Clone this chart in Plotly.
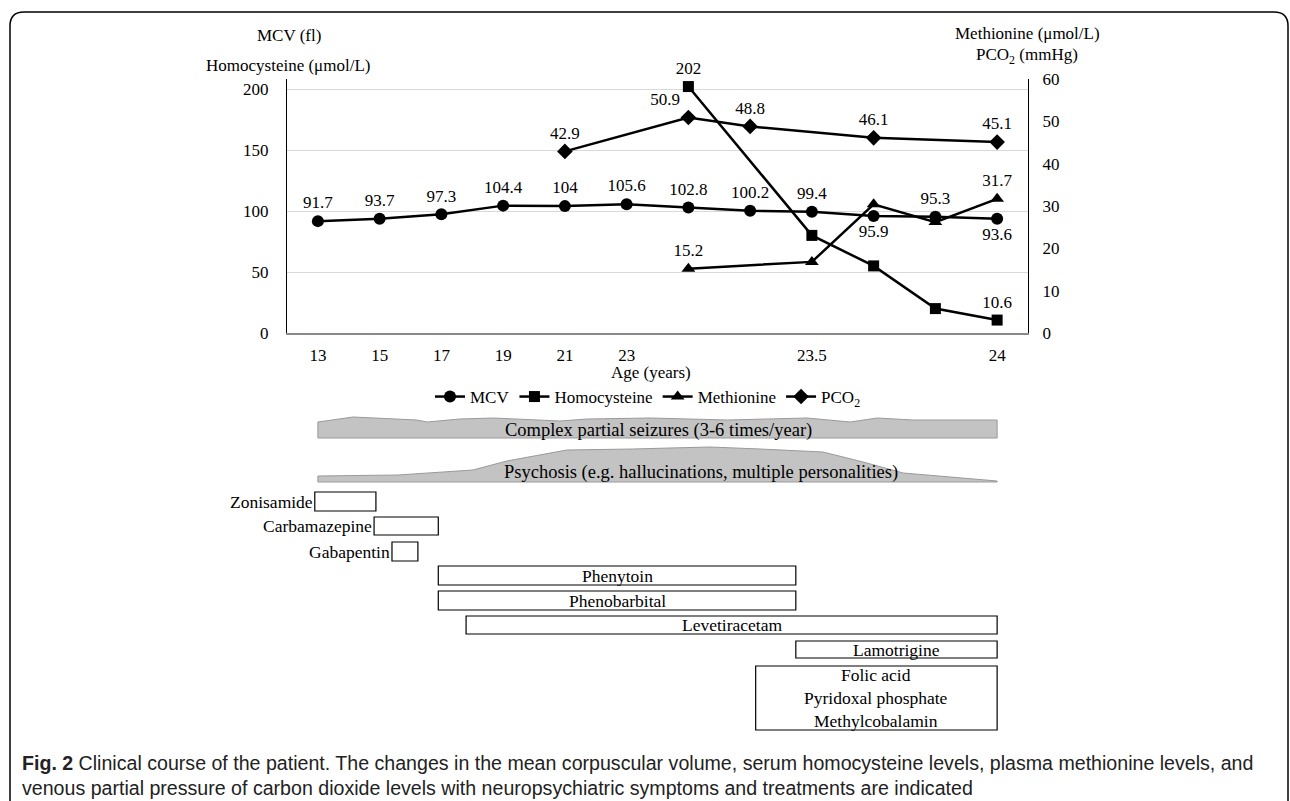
import plotly.graph_objects as go

# ---------------- data ----------------
x_labels = ["13", "15", "17", "19", "21", "23", "", "", "23.5", "", "", "24"]
x_pos = list(range(len(x_labels)))

mcv = [91.7, 93.7, 97.3, 104.4, 104, 105.6, 102.8, 100.2, 99.4, 95.9, 95.3, 93.6]
homocysteine = [None, None, None, None, None, None, 202, None, 80, 55, 20, 10.6]
methionine = [None, None, None, None, None, None, 15.2, None, 16.8, 30.4, 26.2, 31.7]
pco2 = [None, None, None, None, 42.9, None, 50.9, 48.8, None, 46.1, None, 45.1]

mcv_text = ["91.7", "93.7", "97.3", "104.4", "104", "105.6", "102.8", "100.2", "99.4", "95.9", "95.3", "93.6"]
homo_text = ["", "", "", "", "", "", "202", "", "", "", "", "10.6"]
meth_text = ["", "", "", "", "", "", "15.2", "", "", "", "", "31.7"]
pco2_text = ["", "", "", "", "42.9", "", "50.9", "48.8", "", "46.1", "", "45.1"]

left_ticks = [0, 50, 100, 150, 200]
right_ticks = [0, 10, 20, 30, 40, 50, 60]

# treatments (start / end on the age axis, in category units)
drug_names = ["Zonisamide", "Carbamazepine", "Gabapentin", "Phenytoin", "Phenobarbital",
              "Levetiracetam", "Lamotrigine",
              "Folic acid<br>Pyridoxal phosphate<br>Methylcobalamin"]
drug_start = [-0.05, 0.91, 1.2, 1.95, 1.95, 2.4, 7.74, 7.09]
drug_end = [0.94, 1.95, 1.62, 7.74, 7.74, 11.0, 11.0, 11.0]
drug_label_left = [True, True, True, False, False, False, False, False]

# symptoms (outline of the top edge on the age axis)
seiz_name = "Complex partial seizures (3-6 times/year)"
seiz_x = [0.0, 0.57, 1.6, 1.77, 2.3, 2.84, 3.92, 4.36, 5.38, 6.63, 7.92, 8.62, 9.06, 9.64, 11.0]
seiz_top = [422, 417, 420, 422, 419, 418, 421, 419, 418, 420, 418, 422, 418, 420, 420]
seiz_label_x = 5.51
psy_name = "Psychosis (e.g. hallucinations, multiple personalities)"
psy_x = [0.0, 1.3, 2.51, 3.06, 4.03, 5.1, 5.7, 6.35, 7.16, 8.18, 8.83, 9.48, 11.0]
psy_top = [476, 475, 470, 461, 450, 449, 448, 447, 449, 452, 462, 473, 481]
psy_label_x = 6.2

caption = ("<b>Fig. 2</b> Clinical course of the patient. The changes in the mean corpuscular volume, "
           "serum homocysteine levels, plasma methionine levels, and<br>venous partial pressure of "
           "carbon dioxide levels with neuropsychiatric symptoms and treatments are indicated")

# ---------------- layout helpers ----------------
W, H = 1290, 801
ML, MR, MT, MB = 287, 262, 79, 468
PW, PH = W - ML - MR, H - MT - MB
SERIF = "Liberation Serif, Times New Roman, serif"
FS = 17


def py(p):  # pixel row -> paper y
    return (MT + PH - p) / PH


def pxp(p):  # pixel column -> paper x
    return (p - ML) / PW


fig = go.Figure()

line = dict(color="black", width=2.5)
fig.add_trace(go.Scatter(x=x_pos, y=mcv, name="MCV", mode="lines+markers+text",
                         line=line, marker=dict(symbol="circle", size=12, color="black"),
                         text=mcv_text,
                         textposition=["top center"] * 9 + ["bottom center", "top center", "bottom center"],
                         textfont=dict(family=SERIF, size=FS, color="black"), cliponaxis=False))
fig.add_trace(go.Scatter(x=x_pos, y=homocysteine, name="Homocysteine", mode="lines+markers+text",
                         connectgaps=True, line=line,
                         marker=dict(symbol="square", size=11, color="black"),
                         text=homo_text, textposition="top center",
                         textfont=dict(family=SERIF, size=FS, color="black"), cliponaxis=False))
fig.add_trace(go.Scatter(x=x_pos, y=methionine, name="Methionine", mode="lines+markers+text",
                         connectgaps=True, line=line, yaxis="y2",
                         marker=dict(symbol="triangle-up", size=12, color="black"),
                         text=meth_text, textposition="top center",
                         textfont=dict(family=SERIF, size=FS, color="black"), cliponaxis=False))
fig.add_trace(go.Scatter(x=x_pos, y=pco2, name="PCO<sub>2</sub>", mode="lines+markers+text",
                         connectgaps=True, line=line, yaxis="y2",
                         marker=dict(symbol="diamond", size=12, color="black"),
                         text=pco2_text,
                         textposition=["top center"] * 6 + ["top left"] + ["top center"] * 5,
                         textfont=dict(family=SERIF, size=FS, color="black"), cliponaxis=False))

shapes = []
annotations = []

# symptom bands
for name, xs, tops, bottom, text_y, lx in [(seiz_name, seiz_x, seiz_top, 438, 430, seiz_label_x),
                                            (psy_name, psy_x, psy_top, 482, 472, psy_label_x)]:
    path = f"M {xs[0]},{py(bottom)} "
    for xv, tv in zip(xs, tops):
        path += f"L {xv},{py(tv)} "
    path += f"L {xs[-1]},{py(bottom)} Z"
    shapes.append(dict(type="path", path=path, xref="x", yref="paper",
                       fillcolor="#c3c3c3", line=dict(color="#9a9a9a", width=1), layer="below"))
    annotations.append(dict(text=name, x=lx, y=py(text_y), xref="x", yref="paper",
                            showarrow=False, font=dict(family=SERIF, size=18.5, color="black"),
                            xanchor="center", yanchor="middle"))

# treatment boxes
row_top = [492, 517, 542, 566, 591, 616, 641, 666]
row_bot = [511, 535, 561, 585, 610, 634, 658, 730]
for name, s, e, left, t, b in zip(drug_names, drug_start, drug_end, drug_label_left, row_top, row_bot):
    shapes.append(dict(type="rect", xref="x", yref="paper", x0=s, x1=e, y0=py(b), y1=py(t),
                       line=dict(color="black", width=1.2), fillcolor="rgba(0,0,0,0)"))
    if left:
        annotations.append(dict(text=name, x=s, y=py((t + b) / 2), xref="x", yref="paper",
                                xanchor="right", yanchor="middle", showarrow=False,
                                font=dict(family=SERIF, size=FS + 0.5, color="black")))
    else:
        annotations.append(dict(text=name, x=(s + e) / 2, y=py((t + b) / 2), xref="x", yref="paper",
                                xanchor="center", yanchor="middle", showarrow=False,
                                font=dict(family=SERIF, size=FS + 0.5, color="black")))

# axis titles
for txt, xp, ypx in [("MCV (fl)", 289, 35), ("Homocysteine (μmol/L)", 288, 65),
                     ("Methionine (μmol/L)", 1027, 33), ("PCO<sub>2</sub> (mmHg)", 1027, 56)]:
    annotations.append(dict(text=txt, x=pxp(xp), y=py(ypx), xref="paper", yref="paper",
                            xanchor="center", yanchor="middle", showarrow=False,
                            font=dict(family=SERIF, size=FS, color="black")))
annotations.append(dict(text="Age (years)", x=pxp(651), y=py(372), xref="paper", yref="paper",
                        xanchor="center", yanchor="middle", showarrow=False,
                        font=dict(family=SERIF, size=FS, color="black")))

# caption
annotations.append(dict(text=caption, x=pxp(20), y=py(775), xref="paper", yref="paper",
                        xanchor="left", yanchor="middle", align="left", showarrow=False,
                        font=dict(family="Liberation Sans, Arial, sans-serif",
                                  size=19.6, color="#222222")))

# outer rounded frame
r = 14
fl, fr, ft, fb = 10, 1288, 12, 806
frame = (f"M {pxp(fl)},{py(fb)} L {pxp(fl)},{py(ft + r)} Q {pxp(fl)},{py(ft)} {pxp(fl + r)},{py(ft)} "
         f"L {pxp(fr - r)},{py(ft)} Q {pxp(fr)},{py(ft)} {pxp(fr)},{py(ft + r)} L {pxp(fr)},{py(fb)}")
shapes.append(dict(type="path", path=frame, xref="paper", yref="paper",
                   line=dict(color="black", width=1.5)))

fig.update_layout(
    width=W, height=H,
    margin=dict(l=ML, r=MR, t=MT, b=MB, autoexpand=False),
    paper_bgcolor="white", plot_bgcolor="white",
    font=dict(family=SERIF, size=FS, color="black"),
    showlegend=True,
    legend=dict(orientation="h", x=pxp(648), xanchor="center", y=py(397), yanchor="middle",
                font=dict(family=SERIF, size=FS, color="black"), bgcolor="rgba(0,0,0,0)",
                itemwidth=30, tracegroupgap=0),
    xaxis=dict(range=[-0.5, 11.5], tickmode="array", tickvals=x_pos, ticktext=x_labels,
               showgrid=False, zeroline=False, showline=True, linecolor="#8a8a8a", linewidth=2,
               ticks="outside", ticklen=6, tickcolor="rgba(0,0,0,0)",
               tickfont=dict(family=SERIF, size=FS, color="black")),
    yaxis=dict(range=[0, 200 * PH / 244], tickmode="array", tickvals=left_ticks,
               showgrid=True, gridcolor="#d9d9d9", gridwidth=1, zeroline=False,
               showline=True, linecolor="black", linewidth=1.3,
               ticks="outside", ticklen=14, tickcolor="rgba(0,0,0,0)",
               tickfont=dict(family=SERIF, size=FS, color="black")),
    yaxis2=dict(range=[0, 60], tickmode="array", tickvals=right_ticks, overlaying="y", side="right",
                showgrid=False, zeroline=False, showline=True, linecolor="black", linewidth=1.3,
                ticks="outside", ticklen=10, tickcolor="rgba(0,0,0,0)",
                tickfont=dict(family=SERIF, size=FS, color="black")),
    shapes=shapes, annotations=annotations,
)

fig.write_html("out.html", config={"displayModeBar": False},
               post_script="document.body.style.margin='0';document.body.style.overflow='hidden';")
